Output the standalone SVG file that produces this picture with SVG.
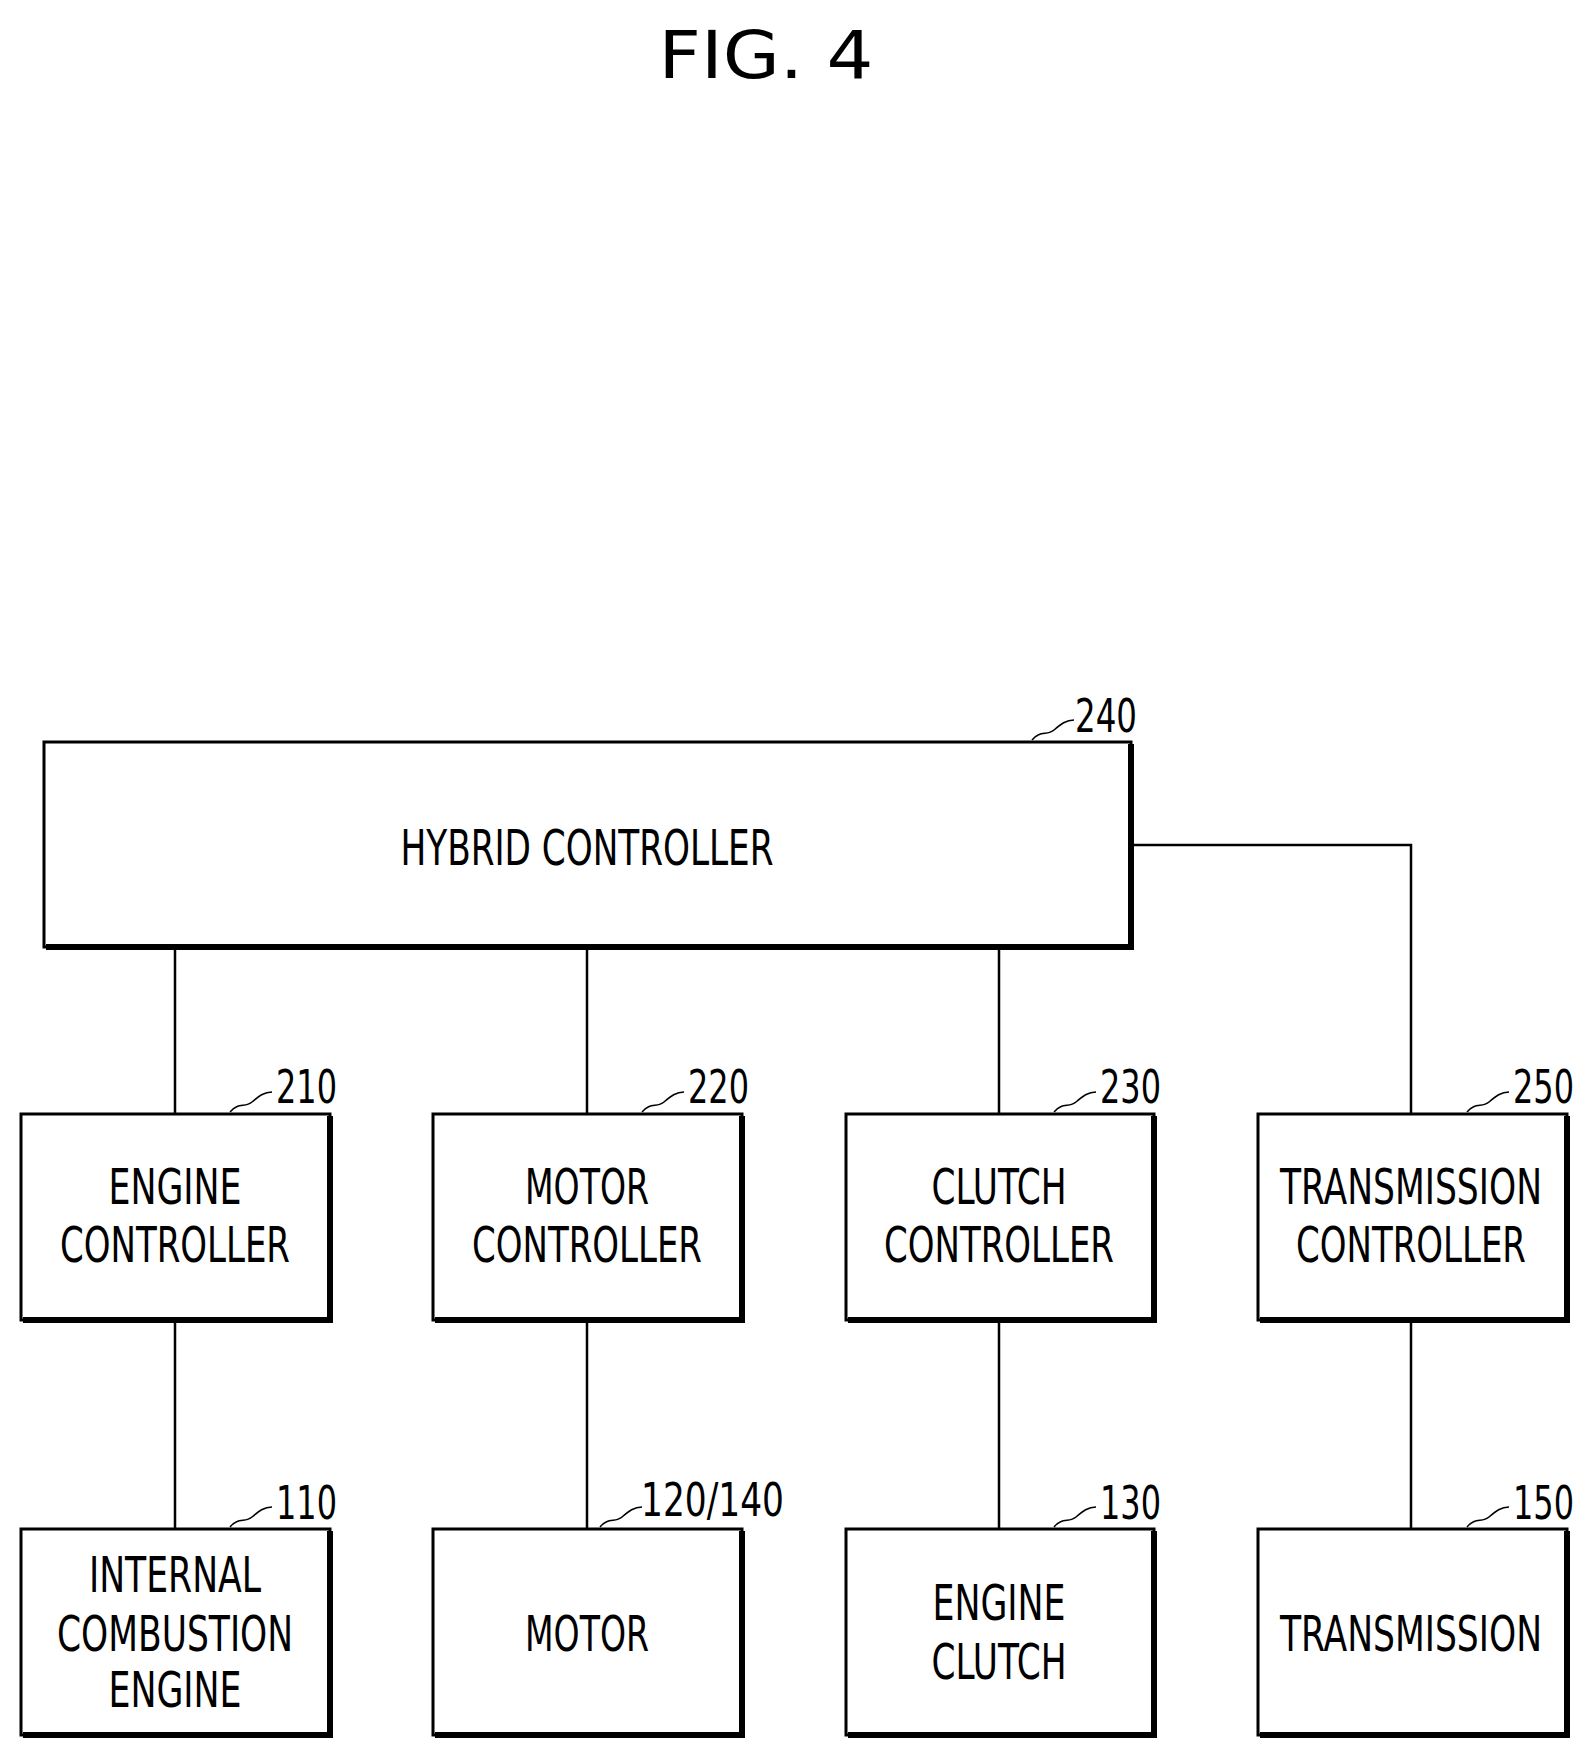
<svg xmlns="http://www.w3.org/2000/svg" width="1590" height="1757" viewBox="0 0 1590 1757">
<style>
.b{fill:#fff;stroke:#000;stroke-width:3}
.s{fill:none;stroke:#000;stroke-width:6}
.c{fill:none;stroke:#000;stroke-width:2.5}
.l{fill:none;stroke:#000;stroke-width:1.5}
text{font-family:"DejaVu Sans Condensed","DejaVu Sans",sans-serif;fill:#000}
.t{font-size:50px;text-anchor:middle}
.n{font-size:46px}
</style>
<rect width="1590" height="1757" fill="#fff"/>
<text x="766" y="78" style="font-size:66px" text-anchor="middle" textLength="215" lengthAdjust="spacingAndGlyphs">FIG. 4</text>
<g id="connectors">
<path class="c" d="M175 949V1114M587 949V1114M999 949V1114M1131 845H1411V1114M175 1322V1529M587 1322V1529M999 1322V1529M1411 1322V1529"/>
</g>
<g id="n240">
<rect class="b" x="44" y="742" width="1087" height="205"/>
<path class="s" d="M46 947H1131V744"/>
<text class="t" x="587" y="865" textLength="373" lengthAdjust="spacingAndGlyphs">HYBRID CONTROLLER</text>
<path class="l" d="M1032 740c8-10 15-4 22-10s12-10 20-10"/>
<text class="n" x="1075" y="732" textLength="62" lengthAdjust="spacingAndGlyphs">240</text>
</g>
<g id="n210">
<rect class="b" x="21" y="1114" width="309" height="206"/>
<path class="s" d="M23 1320H330V1116"/>
<text class="t" x="175" y="1204" textLength="133" lengthAdjust="spacingAndGlyphs">ENGINE</text>
<text class="t" x="175" y="1262" textLength="230" lengthAdjust="spacingAndGlyphs">CONTROLLER</text>
<path class="l" d="M230 1112c8-10 15-4 22-10s12-10 20-10"/>
<text class="n" x="276" y="1103" textLength="61" lengthAdjust="spacingAndGlyphs">210</text>
</g>
<g id="n220">
<rect class="b" x="433" y="1114" width="309" height="206"/>
<path class="s" d="M435 1320H742V1116"/>
<text class="t" x="587" y="1204" textLength="124" lengthAdjust="spacingAndGlyphs">MOTOR</text>
<text class="t" x="587" y="1262" textLength="230" lengthAdjust="spacingAndGlyphs">CONTROLLER</text>
<path class="l" d="M642 1112c8-10 15-4 22-10s12-10 20-10"/>
<text class="n" x="688" y="1103" textLength="61" lengthAdjust="spacingAndGlyphs">220</text>
</g>
<g id="n230">
<rect class="b" x="846" y="1114" width="308" height="206"/>
<path class="s" d="M848 1320H1154V1116"/>
<text class="t" x="999" y="1204" textLength="135" lengthAdjust="spacingAndGlyphs">CLUTCH</text>
<text class="t" x="999" y="1262" textLength="230" lengthAdjust="spacingAndGlyphs">CONTROLLER</text>
<path class="l" d="M1054 1112c8-10 15-4 22-10s12-10 20-10"/>
<text class="n" x="1100" y="1103" textLength="61" lengthAdjust="spacingAndGlyphs">230</text>
</g>
<g id="n250">
<rect class="b" x="1258" y="1114" width="309" height="206"/>
<path class="s" d="M1260 1320H1567V1116"/>
<text class="t" x="1411" y="1204" textLength="262" lengthAdjust="spacingAndGlyphs">TRANSMISSION</text>
<text class="t" x="1411" y="1262" textLength="230" lengthAdjust="spacingAndGlyphs">CONTROLLER</text>
<path class="l" d="M1467 1112c8-10 15-4 22-10s12-10 20-10"/>
<text class="n" x="1513" y="1103" textLength="61" lengthAdjust="spacingAndGlyphs">250</text>
</g>
<g id="n110">
<rect class="b" x="21" y="1529" width="309" height="206"/>
<path class="s" d="M23 1735H330V1531"/>
<text class="t" x="175" y="1592" textLength="172" lengthAdjust="spacingAndGlyphs">INTERNAL</text>
<text class="t" x="175" y="1651" textLength="236" lengthAdjust="spacingAndGlyphs">COMBUSTION</text>
<text class="t" x="175" y="1707" textLength="133" lengthAdjust="spacingAndGlyphs">ENGINE</text>
<path class="l" d="M230 1527c8-10 15-4 22-10s12-10 20-10"/>
<text class="n" x="276" y="1519" textLength="61" lengthAdjust="spacingAndGlyphs">110</text>
</g>
<g id="n120">
<rect class="b" x="433" y="1529" width="309" height="206"/>
<path class="s" d="M435 1735H742V1531"/>
<text class="t" x="587" y="1651" textLength="124" lengthAdjust="spacingAndGlyphs">MOTOR</text>
<path class="l" d="M600 1527c8-10 15-4 22-10s12-10 20-10"/>
<text class="n" x="641" y="1516" textLength="143" lengthAdjust="spacingAndGlyphs">120/140</text>
</g>
<g id="n130">
<rect class="b" x="846" y="1529" width="308" height="206"/>
<path class="s" d="M848 1735H1154V1531"/>
<text class="t" x="999" y="1620" textLength="133" lengthAdjust="spacingAndGlyphs">ENGINE</text>
<text class="t" x="999" y="1679" textLength="135" lengthAdjust="spacingAndGlyphs">CLUTCH</text>
<path class="l" d="M1054 1527c8-10 15-4 22-10s12-10 20-10"/>
<text class="n" x="1100" y="1519" textLength="61" lengthAdjust="spacingAndGlyphs">130</text>
</g>
<g id="n150">
<rect class="b" x="1258" y="1529" width="309" height="206"/>
<path class="s" d="M1260 1735H1567V1531"/>
<text class="t" x="1411" y="1651" textLength="262" lengthAdjust="spacingAndGlyphs">TRANSMISSION</text>
<path class="l" d="M1467 1527c8-10 15-4 22-10s12-10 20-10"/>
<text class="n" x="1513" y="1519" textLength="61" lengthAdjust="spacingAndGlyphs">150</text>
</g>
</svg>
